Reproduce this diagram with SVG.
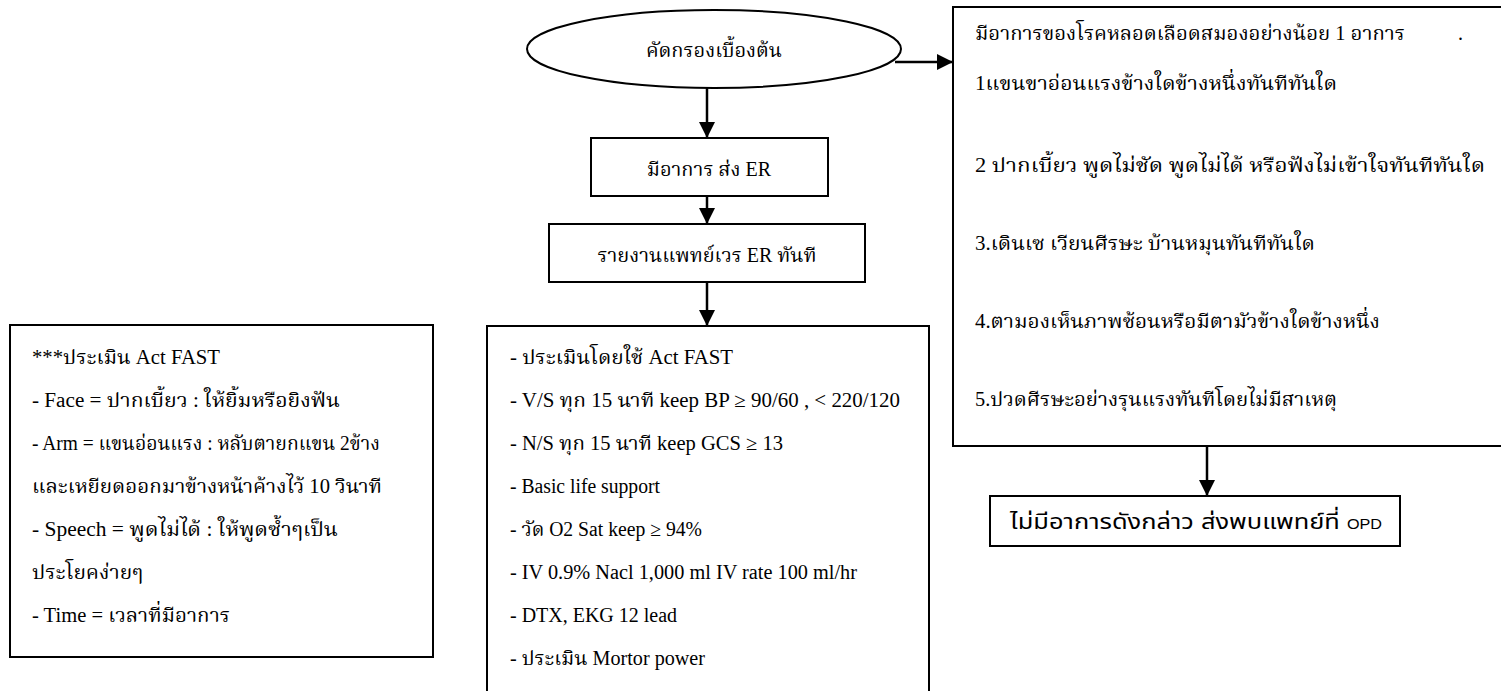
<svg xmlns="http://www.w3.org/2000/svg" width="1501" height="691" viewBox="0 0 1501 691">
<defs>
<marker id="ah" viewBox="0 0 16 16" refX="16" refY="8" markerWidth="16" markerHeight="16" markerUnits="userSpaceOnUse" orient="auto">
<path d="M0,0 L16,8 L0,16 Z" fill="#000"/>
</marker>
<style>
.bx{fill:#fff;stroke:#000;stroke-width:2}
.t{font-family:"Liberation Serif","Noto Serif Thai","Noto Sans Thai",serif;font-size:20px;fill:#000}
.ts{font-family:"Liberation Sans","Noto Sans Thai","Noto Sans",sans-serif;font-size:22px;fill:#000}
.c{stroke:#000;stroke-width:2.5;fill:none;marker-end:url(#ah)}
</style>
</defs>
<rect width="1501" height="691" fill="#fff"/>
<g id="connectors">
<line class="c" x1="707" y1="88" x2="707" y2="138"/>
<line class="c" x1="707" y1="196" x2="707" y2="224"/>
<line class="c" x1="707" y1="282" x2="707" y2="326"/>
<line class="c" x1="895" y1="62" x2="953" y2="62"/>
<line class="c" x1="1207" y1="446" x2="1207" y2="496"/>
</g>
<g id="screen">
<ellipse class="bx" cx="714" cy="49" rx="187" ry="39"/>
<text class="t" x="714" y="57" text-anchor="middle">คัดกรองเบื้องต้น</text>
</g>
<g id="symptom-er">
<rect class="bx" x="591" y="138" width="237" height="58"/>
<text class="t" x="709" y="176" text-anchor="middle">มีอาการ ส่ง ER</text>
</g>
<g id="report">
<rect class="bx" x="549" y="224" width="316" height="58"/>
<text class="t" x="707" y="262" text-anchor="middle">รายงานแพทย์เวร ER ทันที</text>
</g>
<g id="symptoms">
<rect class="bx" x="953" y="7" width="560" height="439"/>
<text class="t" x="975" y="40" textLength="430" lengthAdjust="spacingAndGlyphs">มีอาการของโรคหลอดเลือดสมองอย่างน้อย 1 อาการ</text>
<text class="t" x="1458" y="40">.</text>
<text class="t" x="975" y="90" textLength="362" lengthAdjust="spacingAndGlyphs">1แขนขาอ่อนแรงข้างใดข้างหนึ่งทันทีทันใด</text>
<text class="t" x="975" y="172" textLength="510" lengthAdjust="spacingAndGlyphs">2 ปากเบี้ยว พูดไม่ชัด พูดไม่ได้ หรือฟังไม่เข้าใจทันทีทันใด</text>
<text class="t" x="975" y="250" textLength="340" lengthAdjust="spacingAndGlyphs">3.เดินเซ เวียนศีรษะ บ้านหมุนทันทีทันใด</text>
<text class="t" x="975" y="328" textLength="405" lengthAdjust="spacingAndGlyphs">4.ตามองเห็นภาพซ้อนหรือมีตามัวข้างใดข้างหนึ่ง</text>
<text class="t" x="975" y="406" textLength="362" lengthAdjust="spacingAndGlyphs">5.ปวดศีรษะอย่างรุนแรงทันทีโดยไม่มีสาเหตุ</text>
</g>
<g id="opd">
<rect class="bx" x="990" y="496" width="410" height="50"/>
<text class="ts" x="1010" y="529" textLength="372" lengthAdjust="spacingAndGlyphs">ไม่มีอาการดังกล่าว ส่งพบแพทย์ที่ <tspan font-size="14">OPD</tspan></text>
</g>
<g id="fast">
<rect class="bx" x="10" y="325" width="423" height="332"/>
<text class="t" x="32" y="364" textLength="188" lengthAdjust="spacingAndGlyphs">***ประเมิน Act FAST</text>
<text class="t" x="32" y="407" textLength="308" lengthAdjust="spacingAndGlyphs">- Face = ปากเบี้ยว : ให้ยิ้มหรือยิงฟัน</text>
<text class="t" x="32" y="450" textLength="348" lengthAdjust="spacingAndGlyphs">- Arm = แขนอ่อนแรง : หลับตายกแขน 2ข้าง</text>
<text class="t" x="32" y="493" textLength="350" lengthAdjust="spacingAndGlyphs">และเหยียดออกมาข้างหน้าค้างไว้ 10 วินาที</text>
<text class="t" x="32" y="536" textLength="306" lengthAdjust="spacingAndGlyphs">- Speech = พูดไม่ได้ : ให้พูดซ้ำๆเป็น</text>
<text class="t" x="32" y="579" textLength="111" lengthAdjust="spacingAndGlyphs">ประโยคง่ายๆ</text>
<text class="t" x="32" y="622" textLength="198" lengthAdjust="spacingAndGlyphs">- Time = เวลาที่มีอาการ</text>
</g>
<g id="er-care">
<rect class="bx" x="487" y="326" width="442" height="380"/>
<text class="t" x="510" y="364" textLength="223" lengthAdjust="spacingAndGlyphs">- ประเมินโดยใช้ Act  FAST</text>
<text class="t" x="510" y="407" textLength="390" lengthAdjust="spacingAndGlyphs">- V/S ทุก 15 นาที keep BP ≥ 90/60 , &lt; 220/120</text>
<text class="t" x="510" y="450" textLength="273" lengthAdjust="spacingAndGlyphs">- N/S ทุก 15 นาที keep GCS ≥ 13</text>
<text class="t" x="510" y="493" textLength="150" lengthAdjust="spacingAndGlyphs">- Basic life support</text>
<text class="t" x="510" y="536" textLength="192" lengthAdjust="spacingAndGlyphs">- วัด O2 Sat keep ≥ 94%</text>
<text class="t" x="510" y="579" textLength="347" lengthAdjust="spacingAndGlyphs">- IV 0.9% Nacl 1,000 ml IV rate 100 ml/hr</text>
<text class="t" x="510" y="622" textLength="167" lengthAdjust="spacingAndGlyphs">- DTX, EKG 12 lead</text>
<text class="t" x="510" y="665" textLength="195" lengthAdjust="spacingAndGlyphs">- ประเมิน Mortor power</text>
</g>
</svg>
